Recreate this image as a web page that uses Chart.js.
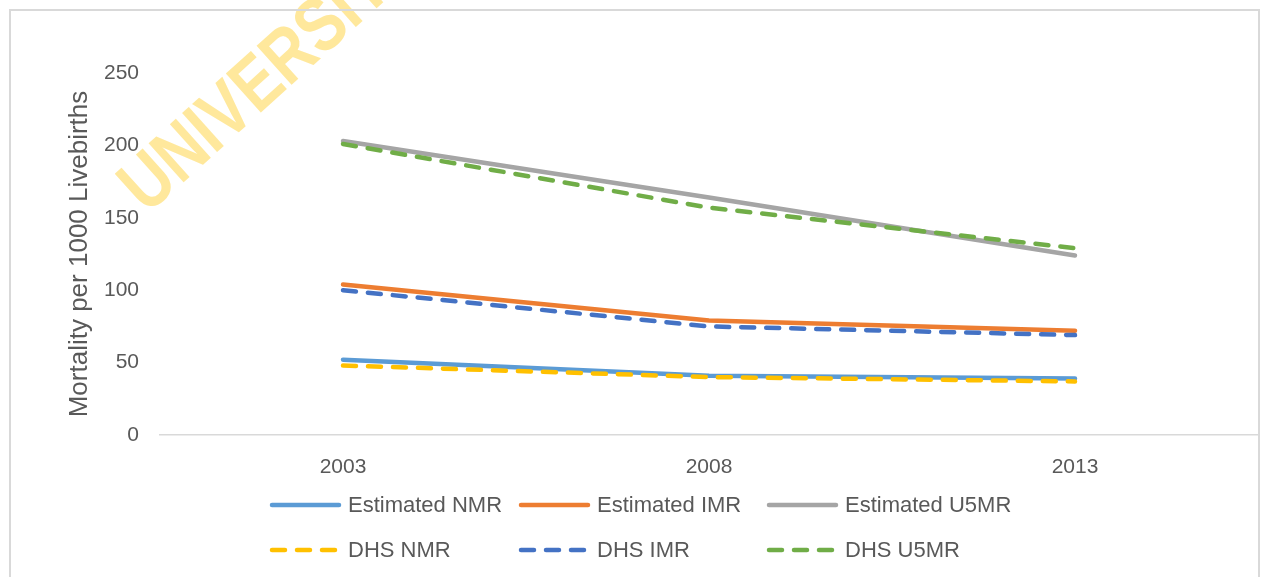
<!DOCTYPE html>
<html>
<head>
<meta charset="utf-8">
<title>Mortality per 1000 Livebirths</title>
<script src="https://cdn.jsdelivr.net/npm/chart.js@4.4.1/dist/chart.umd.min.js"></script>
<style>
  body { margin: 0; background: #fff; }
  #grafico { display: block; }
</style>
</head>
<body>
<canvas id="grafico" width="1264" height="577"></canvas>
<script>
// Dados
const anos = ['2003', '2008', '2013'];
const estimatedNMR = [52, 41, 39];
const estimatedIMR = [104, 79, 72];
const estimatedU5MR = [203, 164, 124];
const dhsNMR = [48, 40, 37];
const dhsIMR = [100, 75, 69];
const dhsU5MR = [201, 157, 129];
const ticksY = [0, 50, 100, 150, 200, 250];

const fonte = '"Liberation Sans", Arial, sans-serif';
const corTexto = '#595959';
const tracejado = [13, 12];

// Marca d'água e moldura (a moldura fica por cima da marca d'água)
const molduraPlugin = {
    id: 'moldura',
    beforeDraw(chart) {
        const ctx = chart.ctx;
        ctx.save();
        ctx.fillStyle = '#fff';
        ctx.fillRect(0, 0, chart.width, chart.height);

        ctx.save();
        ctx.translate(147, 215);
        ctx.rotate(-42 * Math.PI / 180);
        ctx.scale(0.82, 1);
        ctx.fillStyle = '#ffe89c';
        ctx.font = 'bold 76px ' + fonte;
        ctx.textBaseline = 'alphabetic';
        ctx.fillText('UNIVERSITY', 0, 0);
        ctx.restore();

        ctx.strokeStyle = '#d9d9d9';
        ctx.lineWidth = 2;
        ctx.strokeRect(10, 10, 1249, 640);
        ctx.restore();
    }
};

// Legenda em grade (3 colunas x 2 linhas), como no Excel
const legendaPlugin = {
    id: 'legendaGrade',
    afterDraw(chart) {
        const ctx = chart.ctx;
        const colunas = [270, 519, 767];
        const linhas = [505, 550];
        chart.data.datasets.forEach((ds, i) => {
            const x = colunas[i % 3];
            const y = linhas[Math.floor(i / 3)];
            ctx.save();
            ctx.strokeStyle = ds.borderColor;
            ctx.lineWidth = 4.5;
            ctx.lineCap = 'round';
            ctx.setLineDash(ds.borderDash || []);
            ctx.beginPath();
            ctx.moveTo(x + 2, y);
            ctx.lineTo(x + 69, y);
            ctx.stroke();
            ctx.setLineDash([]);
            ctx.fillStyle = corTexto;
            ctx.font = '22px ' + fonte;
            ctx.textBaseline = 'middle';
            ctx.fillText(ds.label, x + 78, y + 1);
            ctx.restore();
        });
    }
};

function serie(label, data, cor, dash, ordem) {
    return {
        label: label,
        data: data,
        borderColor: cor,
        backgroundColor: cor,
        borderWidth: 4.5,
        borderDash: dash,
        borderCapStyle: 'round',
        pointRadius: 0,
        pointHoverRadius: 0,
        tension: 0,
        fill: false,
        order: ordem
    };
}

const ctx = document.getElementById('grafico').getContext('2d');
window.graficoMortalidade = new Chart(ctx, {
    type: 'line',
    data: {
        labels: anos,
        datasets: [
            serie('Estimated NMR', estimatedNMR, '#5b9bd5', [], 6),
            serie('Estimated IMR', estimatedIMR, '#ed7d31', [], 5),
            serie('Estimated U5MR', estimatedU5MR, '#a5a5a5', [], 4),
            serie('DHS NMR', dhsNMR, '#ffc000', tracejado, 3),
            serie('DHS IMR', dhsIMR, '#4472c4', tracejado, 2),
            serie('DHS U5MR', dhsU5MR, '#70ad47', tracejado, 1)
        ]
    },
    options: {
        responsive: false,
        animation: false,
        layout: { padding: { top: 73, right: 6, left: 0, bottom: 0 } },
        plugins: {
            legend: { display: false },
            tooltip: { enabled: false }
        },
        scales: {
            x: {
                offset: true,
                grid: { drawOnChartArea: false, drawTicks: false },
                border: { display: true, color: '#d9d9d9', width: 1.5 },
                ticks: {
                    color: corTexto,
                    font: { family: fonte, size: 21 },
                    padding: 20,
                    maxRotation: 0
                },
                afterFit(scale) {
                    scale.height = 142;
                }
            },
            y: {
                min: 0,
                max: 250,
                afterBuildTicks(scale) {
                    scale.ticks = ticksY.map(v => ({ value: v }));
                },
                grid: { display: false, drawTicks: false },
                border: { display: false },
                ticks: {
                    color: corTexto,
                    font: { family: fonte, size: 21 },
                    padding: 21
                },
                title: {
                    display: true,
                    text: 'Mortality per 1000 Livebirths',
                    color: corTexto,
                    font: { family: fonte, size: 26 },
                    padding: { top: 64, bottom: 0 }
                },
                afterFit(scale) {
                    scale.width = 160;
                }
            }
        }
    },
    plugins: [molduraPlugin, legendaPlugin]
});
</script>
</body>
</html>
